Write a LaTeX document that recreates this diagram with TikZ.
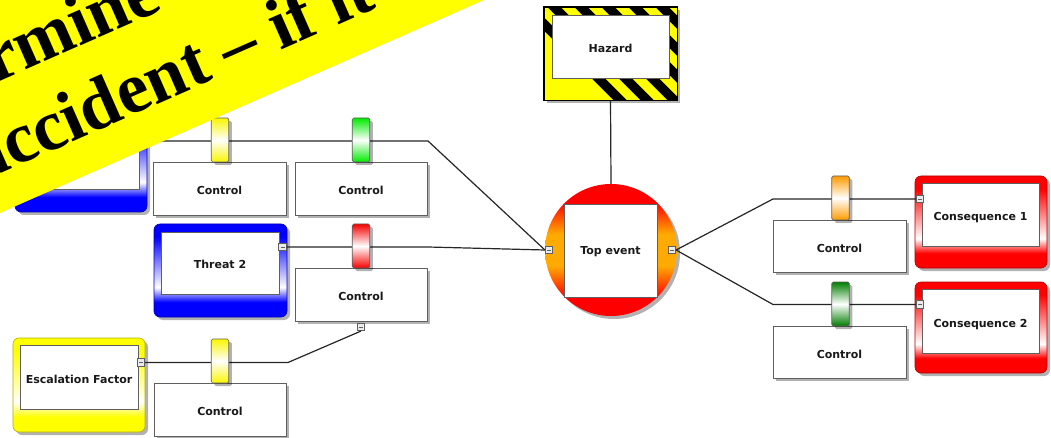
\documentclass[tikz,border=0pt]{standalone}
\usepackage{fontspec}
\newfontfamily\labelfont{DejaVu Sans}
\newfontfamily\bannerfont{Liberation Serif}
\usetikzlibrary{shadows}

\definecolor{threatblue}{RGB}{0,0,255}
\definecolor{consred}{RGB}{255,0,0}
\definecolor{escyellow}{RGB}{255,255,0}
\definecolor{toporange}{RGB}{255,170,0}
\definecolor{tabyellow}{RGB}{250,245,0}
\definecolor{tabgreen}{RGB}{0,235,0}
\definecolor{tabdarkgreen}{RGB}{0,125,0}
\definecolor{taborange}{RGB}{255,155,0}
\definecolor{tabred}{RGB}{245,0,0}
\definecolor{banneryellow}{RGB}{255,255,0}
\definecolor{edgegrey}{RGB}{95,95,95}

% frame shadings: solid band at the bottom, white just above it, colour towards the top
\pgfdeclareverticalshading{blueframe}{100bp}{color(0bp)=(threatblue); color(33bp)=(threatblue); color(41bp)=(white); color(68bp)=(threatblue); color(100bp)=(threatblue)}
\pgfdeclareverticalshading{redframe}{100bp}{color(0bp)=(consred); color(33bp)=(consred); color(41bp)=(white); color(68bp)=(consred); color(100bp)=(consred)}
\pgfdeclareverticalshading{yellowframe}{100bp}{color(0bp)=(escyellow); color(33bp)=(escyellow); color(41bp)=(white); color(68bp)=(escyellow); color(100bp)=(escyellow)}
\pgfdeclareverticalshading{topeventshade}{100bp}{color(0bp)=(consred); color(32bp)=(consred); color(44bp)=(toporange); color(56bp)=(toporange); color(68bp)=(consred); color(100bp)=(consred)}

\tikzset{
  shadowed/.style={drop shadow={shadow xshift=3pt, shadow yshift=-3pt, opacity=0.3, fill=black}},
  lbl/.style={font=\labelfont\bfseries\fontsize{11}{13}\selectfont, text=black!90, text height=12pt, text depth=0pt},
  conn/.style={draw=black!85, line width=1.2pt},
  ctrlbox/.style={lbl, draw=edgegrey, fill=white, line width=0.8pt, minimum width=133pt, minimum height=53pt, inner sep=0pt, shadowed},
  innerbox/.style={lbl, draw=edgegrey, fill=white, line width=0.8pt, minimum width=117pt, minimum height=63pt, inner sep=0pt},
  outerbox/.style={draw=#1!70!black, line width=0.6pt, rounded corners=6pt, minimum width=132pt, minimum height=93pt, inner sep=0pt, shadowed},
  tabbox/.style={draw=edgegrey, line width=0.7pt, rounded corners=1.5pt, minimum width=17.5pt, minimum height=44pt, inner sep=0pt,
    top color=#1, bottom color=#1, middle color=white, shadowed},
  port/.style={draw=edgegrey, fill=black!8, line width=0.6pt, minimum size=7.5pt, inner sep=0pt,
    path picture={\draw[edgegrey, line width=0.6pt] ([xshift=-2pt]path picture bounding box.center) -- ([xshift=2pt]path picture bounding box.center);}},
  bannertext/.style={rotate=23.75, anchor=base west, inner sep=0pt, font=\bannerfont\bfseries\fontsize{72}{84}\selectfont, text=black}
}

\begin{document}
\begin{tikzpicture}[x=1pt, y=-1pt]
\useasboundingbox (0,0) rectangle (1051,438);
\clip (0,0) rectangle (1051,438);
\fill[white] (0,0) rectangle (1051,438);

% ---- hazard with warning stripes ----
\node[draw=black, line width=0.6pt, fill=banneryellow, minimum width=133pt, minimum height=93pt, inner sep=0pt, shadowed] (hazframe) at (610.5,53.5) {};
\begin{scope}
  \clip (hazframe.south west) rectangle (hazframe.north east);
  \foreach \k in {0,...,12} {
    \draw[black, line width=9.5pt] (500+27*\k,-20) -- (640+27*\k,120);
  }
\end{scope}
\draw[black, line width=0.6pt] (hazframe.south west) rectangle (hazframe.north east);
\node[innerbox] (hazard) at (610.5,47) {Hazard};

% ---- top event ----
\node[circle, minimum size=132pt, inner sep=0pt, shading=topeventshade, shadowed] (topcirc) at (611,250) {};
\node[lbl, draw=edgegrey, fill=white, line width=0.8pt, minimum size=93pt, inner sep=0pt, text height=8pt] (top) at (610.5,250.5) {Top event};

% ---- threats, escalation factor, consequences ----
\node[outerbox=threatblue, shading=blueframe] (t1frame) at (81,165.5) {};
\node[innerbox] (threat1) at (80.5,158) {};
\node[outerbox=threatblue, shading=blueframe, minimum width=133pt] (t2frame) at (220.5,270.5) {};
\node[innerbox, minimum width=118pt, minimum height=62pt, text height=10pt] (threat2) at (220,263) {Threat 2};
\node[outerbox=escyellow, shading=yellowframe, minimum height=94pt] (escframe) at (79,385) {};
\node[innerbox, minimum width=118pt, minimum height=64pt] (esc) at (79,377) {Escalation Factor};
\node[outerbox=consred, shading=redframe, minimum height=92pt] (c1frame) at (981,222) {};
\node[innerbox] (cons1) at (980.5,214.5) {Consequence 1};
\node[outerbox=consred, shading=redframe, minimum height=91pt] (c2frame) at (981,327.5) {};
\node[innerbox, minimum height=64pt] (cons2) at (980.5,321) {Consequence 2};

% ---- controls ----
\node[ctrlbox] (ctrlA) at (219.5,188.5) {Control};
\node[ctrlbox, minimum width=132pt] (ctrlB) at (361,188.5) {Control};
\node[ctrlbox, minimum width=132pt] (ctrlC) at (361,294.5) {Control};
\node[ctrlbox, minimum width=132pt] (ctrlD) at (220,409.5) {Control};
\node[ctrlbox, minimum height=52pt] (ctrlE) at (839.5,246) {Control};
\node[ctrlbox, minimum height=52pt] (ctrlF) at (839.5,352) {Control};

% ---- ports ----
\node[port] (pT1) at (143,141) {};
\node[port] (pT2) at (282.5,247) {};
\node[port] (pEsc) at (141,362.5) {};
\node[port] (pCtrlC) at (361,327) {};
\node[port] (pTopL) at (549,250) {};
\node[port] (pTopR) at (672,250) {};
\node[port] (pC1) at (920,199) {};
\node[port] (pC2) at (920,304.5) {};

% ---- connectors ----
\coordinate (bendA) at (428,141);
\coordinate (bendB) at (428,247);
\coordinate (bendC) at (288,362.5);
\coordinate (bendD) at (773,199);
\coordinate (bendE) at (773,304.5);
\draw[conn] (hazframe.south) -- (topcirc.north);
\draw[conn] (pT1.east) -- (bendA) -- (pTopL.west);
\draw[conn] (pT2.east) -- (bendB) -- (pTopL.west);
\draw[conn] (pEsc.east) -- (bendC) -- (pCtrlC.south);
\draw[conn] (pTopR.east) -- (bendD) -- (pC1.west);
\draw[conn] (pTopR.east) -- (bendE) -- (pC2.west);

% ---- barrier tabs ----
\node[tabbox=tabyellow] (tabA) at (220,140) {};
\node[tabbox=tabgreen] (tabB) at (361,140) {};
\node[tabbox=tabred] (tabC) at (361,246) {};
\node[tabbox=tabyellow] (tabD) at (220,361) {};
\node[tabbox=taborange] (tabE) at (840.5,198) {};
\node[tabbox=tabdarkgreen] (tabF) at (840.5,304) {};

% ---- banner ----
\fill[banneryellow] (-20,221.8) -- (520,-15.8) -- (-20,-20) -- cycle;
\node[bannertext] (bannerA) at (-133,140) {Determine};
\node[bannertext] (bannerB) at (-20,182.5) {accident \textendash{} if it happens};
\end{tikzpicture}
\end{document}
